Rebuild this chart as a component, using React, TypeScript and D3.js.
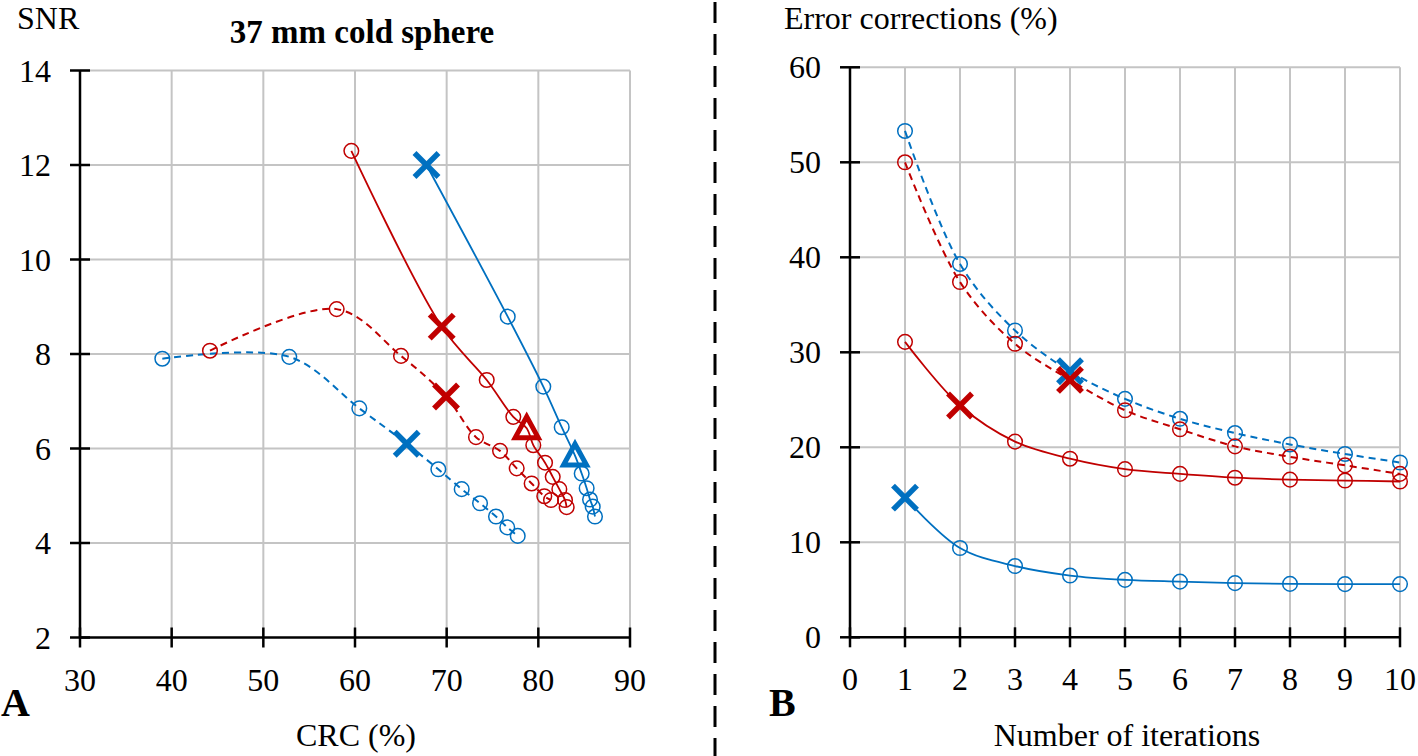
import React from "react";
import * as d3 from "d3";

// ---------- Panel A data (CRC % vs SNR) ----------
const crcRedSolid = [59.6, 69.46, 74.37, 77.27, 78.73, 79.45, 80.73, 81.57, 82.29, 82.91, 83.09];
const snrRedSolid = [12.3, 8.58, 7.45, 6.67, 6.43, 6.07, 5.7, 5.4, 5.14, 4.91, 4.76];
const mkRedSolid = ["o", "x", "o", "o", "t", "o", "o", "o", "o", "o", "o"];

const crcBlueSolid = [67.8, 76.66, 80.54, 82.55, 84.0, 84.73, 85.27, 85.64, 85.93, 86.18];
const snrBlueSolid = [12.0, 8.79, 7.31, 6.45, 5.85, 5.47, 5.16, 4.92, 4.77, 4.56];
const mkBlueSolid = ["x", "o", "o", "o", "t", "o", "o", "o", "o", "o"];

const crcRedDashed = [44.18, 58.0, 65.02, 69.93, 73.2, 75.82, 77.64, 79.27, 80.65, 81.38];
const snrRedDashed = [8.07, 8.95, 7.96, 7.1, 6.24, 5.95, 5.58, 5.26, 4.99, 4.91];
const mkRedDashed = ["o", "o", "o", "x", "o", "o", "o", "o", "o", "o"];

const crcBlueDashed = [38.98, 52.83, 60.47, 65.64, 69.09, 71.64, 73.64, 75.38, 76.61, 77.75];
const snrBlueDashed = [7.9, 7.94, 6.85, 6.1, 5.56, 5.14, 4.84, 4.56, 4.33, 4.15];
const mkBlueDashed = ["o", "o", "o", "x", "o", "o", "o", "o", "o", "o"];

const crcTicks = [30, 40, 50, 60, 70, 80, 90];
const snrTicks = [2, 4, 6, 8, 10, 12, 14];

// ---------- Panel B data (iterations vs error corrections %) ----------
const iterations = [1, 2, 3, 4, 5, 6, 7, 8, 9, 10];
const errBlueDashed = [53.3, 39.3, 32.3, 28.0, 25.1, 23.0, 21.5, 20.3, 19.3, 18.4];
const mkErrBlueDashed = ["o", "o", "o", "x", "o", "o", "o", "o", "o", "o"];
const errRedDashed = [50.0, 37.4, 30.9, 27.1, 23.9, 21.9, 20.1, 19.0, 18.1, 17.2];
const mkErrRedDashed = ["o", "o", "o", "x", "o", "o", "o", "o", "o", "o"];
const errRedSolid = [31.1, 24.4, 20.6, 18.8, 17.7, 17.2, 16.8, 16.6, 16.5, 16.4];
const mkErrRedSolid = ["o", "x", "o", "o", "o", "o", "o", "o", "o", "o"];
const errBlueSolid = [14.7, 9.4, 7.5, 6.5, 6.05, 5.86, 5.7, 5.62, 5.6, 5.6];
const mkErrBlueSolid = ["x", "o", "o", "o", "o", "o", "o", "o", "o", "o"];

const iterTicks = [0, 1, 2, 3, 4, 5, 6, 7, 8, 9, 10];
const errTicks = [0, 10, 20, 30, 40, 50, 60];

const RED = "#C00000";
const BLUE = "#0070C0";
const GRID = "#C4C4C4";
const FONT = "'Liberation Serif', 'Times New Roman', serif";
const FS = 32;

type Series = { xs: number[]; ys: number[]; mk: string[]; color: string; dashed: boolean };

function Marker({ x, y, kind, color }: { x: number; y: number; kind: string; color: string }) {
  if (kind === "x") {
    const s = 12;
    return (
      <g stroke={color} strokeWidth={5.5} strokeLinecap="butt">
        <line x1={x - s} y1={y - s} x2={x + s} y2={y + s} />
        <line x1={x - s} y1={y + s} x2={x + s} y2={y - s} />
      </g>
    );
  }
  if (kind === "t") {
    const w = 11.5;
    const h = 21;
    const d = `M${x},${y - h * 0.55} L${x + w},${y + h * 0.45} L${x - w},${y + h * 0.45} Z`;
    return <path d={d} fill="none" stroke={color} strokeWidth={5} strokeLinejoin="miter" />;
  }
  return <circle cx={x} cy={y} r={7.3} fill="none" stroke={color} strokeWidth={1.5} />;
}

function Panel({
  x0, x1, y0, y1, xDomain, yDomain, xTicks, yTicks, series,
}: {
  x0: number; x1: number; y0: number; y1: number;
  xDomain: [number, number]; yDomain: [number, number];
  xTicks: number[]; yTicks: number[]; series: Series[];
}) {
  const xs = d3.scaleLinear().domain(xDomain).range([x0, x1]);
  const ys = d3.scaleLinear().domain(yDomain).range([y1, y0]);
  const line = d3
    .line<[number, number]>()
    .x((d) => xs(d[0]))
    .y((d) => ys(d[1]))
    .curve(d3.curveCatmullRom.alpha(0.5));
  return (
    <g>
      {xTicks.slice(1).map((t) => (
        <line key={"gx" + t} x1={xs(t)} x2={xs(t)} y1={ys(yDomain[1])} y2={ys(yDomain[0])} stroke={GRID} strokeWidth={2} />
      ))}
      {yTicks.slice(1).map((t) => (
        <line key={"gy" + t} x1={xs(xDomain[0])} x2={xs(xDomain[1])} y1={ys(t)} y2={ys(t)} stroke={GRID} strokeWidth={2} />
      ))}
      <line x1={x0} x2={x0} y1={y0} y2={y1} stroke="#000" strokeWidth={2.5} />
      <line x1={x0} x2={x1} y1={y1} y2={y1} stroke="#000" strokeWidth={2.5} />
      {yTicks.map((t) => (
        <g key={"ty" + t}>
          <line x1={x0 - 10} x2={x0 + 10} y1={ys(t)} y2={ys(t)} stroke="#000" strokeWidth={2.5} />
          <text x={x0 - 29} y={ys(t) + 11} textAnchor="end" fontSize={FS} fontFamily={FONT}>{t}</text>
        </g>
      ))}
      {xTicks.map((t) => (
        <g key={"tx" + t}>
          <line x1={xs(t)} x2={xs(t)} y1={y1 - 10} y2={y1 + 10} stroke="#000" strokeWidth={2.5} />
          <text x={xs(t)} y={y1 + 53} textAnchor="middle" fontSize={FS} fontFamily={FONT}>{t}</text>
        </g>
      ))}
      {series.map((s, i) => {
        const pts = s.xs.map((v, j) => [v, s.ys[j]] as [number, number]);
        return (
          <g key={"s" + i}>
            <path d={line(pts) || ""} fill="none" stroke={s.color} strokeWidth={s.dashed ? 2 : 1.8}
              strokeDasharray={s.dashed ? "7,5" : undefined} />
            {pts.map((p, j) => (
              <Marker key={j} x={xs(p[0])} y={ys(p[1])} kind={s.mk[j]} color={s.color} />
            ))}
          </g>
        );
      })}
    </g>
  );
}

export default function App() {
  const seriesA: Series[] = [
    { xs: crcBlueDashed, ys: snrBlueDashed, mk: mkBlueDashed, color: BLUE, dashed: true },
    { xs: crcRedDashed, ys: snrRedDashed, mk: mkRedDashed, color: RED, dashed: true },
    { xs: crcRedSolid, ys: snrRedSolid, mk: mkRedSolid, color: RED, dashed: false },
    { xs: crcBlueSolid, ys: snrBlueSolid, mk: mkBlueSolid, color: BLUE, dashed: false },
  ];
  const seriesB: Series[] = [
    { xs: iterations, ys: errBlueDashed, mk: mkErrBlueDashed, color: BLUE, dashed: true },
    { xs: iterations, ys: errRedDashed, mk: mkErrRedDashed, color: RED, dashed: true },
    { xs: iterations, ys: errRedSolid, mk: mkErrRedSolid, color: RED, dashed: false },
    { xs: iterations, ys: errBlueSolid, mk: mkErrBlueSolid, color: BLUE, dashed: false },
  ];
  return (
    <svg width={1418} height={756} style={{ position: "absolute", left: 0, top: 0, background: "#fff" }}>
      <rect width={1418} height={756} fill="#fff" />
      <Panel x0={80} x1={630} y0={70.5} y1={637.5} xDomain={[30, 90]} yDomain={[2, 14]}
        xTicks={crcTicks} yTicks={snrTicks} series={seriesA} />
      <Panel x0={850} x1={1400} y0={67.3} y1={637.3} xDomain={[0, 10]} yDomain={[0, 60]}
        xTicks={iterTicks} yTicks={errTicks} series={seriesB} />

      <text x={17} y={29} fontSize={FS} fontFamily={FONT}>SNR</text>
      <text x={362} y={43} fontSize={33} fontWeight="bold" fontFamily={FONT} textAnchor="middle">37 mm cold sphere</text>
      <text x={356} y={746} fontSize={FS} fontFamily={FONT} textAnchor="middle">CRC (%)</text>
      <text x={1} y={716} fontSize={40} fontWeight="bold" fontFamily={FONT}>A</text>

      <text x={784} y={29} fontSize={FS} fontFamily={FONT}>Error corrections (%)</text>
      <text x={1127} y={746} fontSize={FS} fontFamily={FONT} textAnchor="middle">Number of iterations</text>
      <text x={769} y={716} fontSize={40} fontWeight="bold" fontFamily={FONT}>B</text>

      <line x1={715} x2={715} y1={2} y2={756} stroke="#000" strokeWidth={3} strokeDasharray="21,11" />
    </svg>
  );
}
